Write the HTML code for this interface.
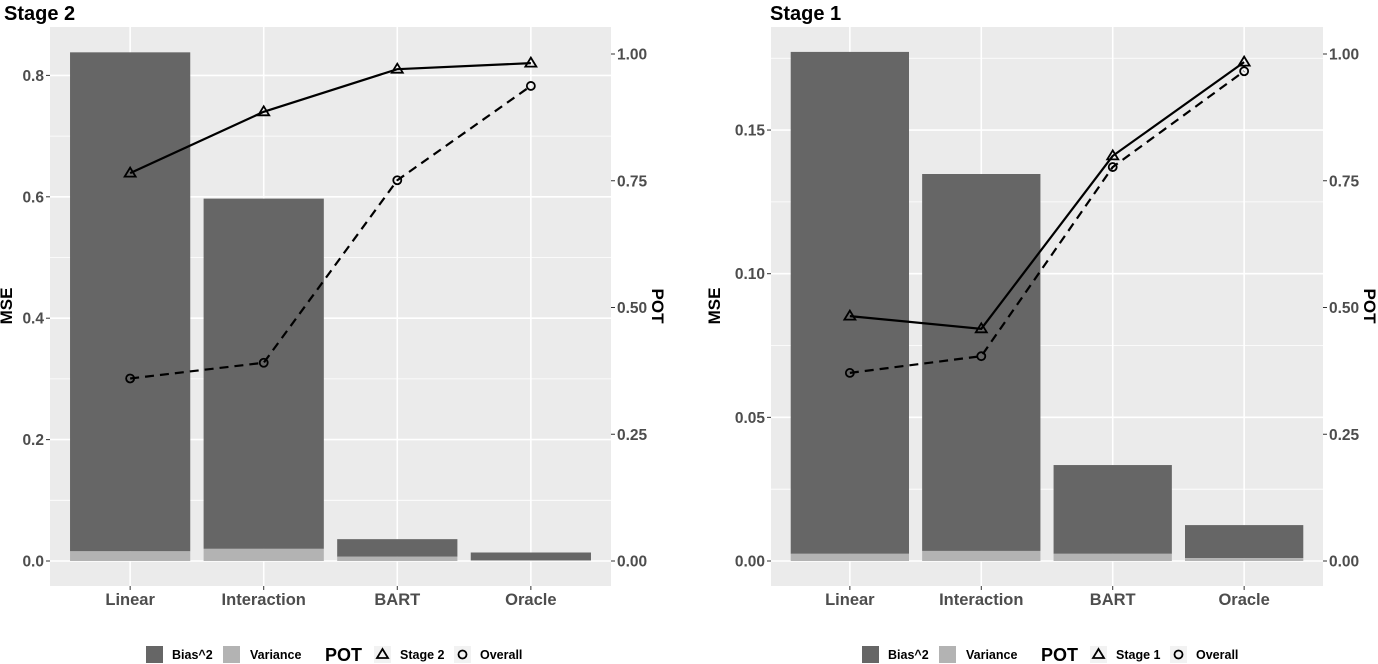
<!DOCTYPE html>
<html><head><meta charset="utf-8"><style>
body{margin:0;background:#fff;}
svg{display:block;font-family:"Liberation Sans",Arial,sans-serif;}
</style></head><body>
<svg id="c" width="1378" height="664" xmlns="http://www.w3.org/2000/svg"></svg>
<script>
const categories = ["Linear","Interaction","BART","Oracle"];
const s2Bias = [0.838,0.597,0.036,0.014];
const s2Var = [0.016,0.020,0.007,0.0015];
const s2PotStage = [0.765,0.886,0.970,0.982];
const s2PotOverall = [0.360,0.391,0.751,0.937];
const s1Bias = [0.1772,0.1347,0.0334,0.0125];
const s1Var = [0.0025,0.0035,0.0025,0.001];
const s1PotStage = [0.483,0.458,0.799,0.984];
const s1PotOverall = [0.371,0.404,0.777,0.966];
const s2LeftTicks = [0,0.2,0.4,0.6,0.8];
const s2LeftLabels = ["0.0","0.2","0.4","0.6","0.8"];
const s1LeftTicks = [0,0.05,0.10,0.15];
const s1LeftLabels = ["0.00","0.05","0.10","0.15"];
const potTicks = [0,0.25,0.5,0.75,1];
const potLabels = ["0.00","0.25","0.50","0.75","1.00"];

const NS="http://www.w3.org/2000/svg";
const svg=document.getElementById('c');
function mk(tag,attrs,parent){const e=document.createElementNS(NS,tag);for(const k in attrs)e.setAttribute(k,attrs[k]);(parent||svg).appendChild(e);return e;}

function panel(o){
  const g=mk('g',{});
  
  
  const L=o.left,R=o.right,T=27,B=586,zero=561;
  const step=(R-L)/4.2;
  const xs=i=>L+step*(0.6+i);
  const yL=v=>zero-v*o.pxPerUnit;
  const yR=v=>zero-v*507;
  const bg=mk('rect',{x:L,y:T,width:R-L,height:B-T,fill:'#ebebeb'},g);
  
  
  for(let i=0;i<o.ticks.length;i++){
    const mv=o.ticks[i]+(o.ticks[1]-o.ticks[0])/2;const my=yL(mv);
    if(my>T){const ln=mk('line',{x1:L,x2:R,y1:my,y2:my,stroke:'#fff','stroke-width':0.8},g);
      }
    const mv2=o.ticks[0]-(o.ticks[1]-o.ticks[0])/2;
    if(i===0){const y2=yL(mv2);if(y2<B){const l2=mk('line',{x1:L,x2:R,y1:y2,y2:y2,stroke:'#fff','stroke-width':0.8},g);
      }}
  }
  o.ticks.forEach((t,i)=>{
    const y=yL(t);
    const ln=mk('line',{x1:L,x2:R,y1:y,y2:y,stroke:'#fff','stroke-width':1.6},g);
    
    mk('line',{x1:L-4,x2:L,y1:y,y2:y,stroke:'#333','stroke-width':1},g);
    const tx=mk('text',{x:L-6,y:y+5.5,'text-anchor':'end','font-size':15.5,'font-weight':'bold',fill:'#4d4d4d'},g);
    tx.textContent=o.labels[i];
    
  });
  categories.forEach((c,i)=>{
    const x=xs(i);
    const ln=mk('line',{x1:x,x2:x,y1:T,y2:B,stroke:'#fff','stroke-width':1.6},g);
    
  });
  categories.forEach((c,i)=>{
    const x=xs(i),w=step*0.9;
    const tot=o.bias[i];
    const b=mk('rect',{x:x-w/2,y:yL(tot),width:w,height:yL(o.vari[i])-yL(tot),fill:'#666666'},g);
    
    const v=mk('rect',{x:x-w/2,y:yL(o.vari[i]),width:w,height:zero-yL(o.vari[i]),fill:'#b3b3b3'},g);
    
    mk('line',{x1:x,x2:x,y1:B,y2:B+4,stroke:'#333','stroke-width':1},g);
    const tx=mk('text',{x:x,y:605,'text-anchor':'middle','font-size':16.5,'font-weight':'bold',fill:'#4d4d4d'},g);
    tx.textContent=c;
  });
  potTicks.forEach((t,i)=>{
    const y=yR(t);
    mk('line',{x1:R,x2:R+4,y1:y,y2:y,stroke:'#333','stroke-width':1},g);
    const tx=mk('text',{x:R+6,y:y+5.5,'font-size':15.5,'font-weight':'bold',fill:'#4d4d4d'},g);
    tx.textContent=potLabels[i];
  });
  const p1=o.stage.map((v,i)=>xs(i)+','+yR(v)).join(' ');
  const l1=mk('polyline',{points:p1,fill:'none',stroke:'#000','stroke-width':2.2},g);
  
  const p2=o.overall.map((v,i)=>xs(i)+','+yR(v)).join(' ');
  const l2=mk('polyline',{points:p2,fill:'none',stroke:'#000','stroke-width':2.2,'stroke-dasharray':'9,6'},g);
  
  o.stage.forEach((v,i)=>{const x=xs(i),y=yR(v);
    const t=mk('polygon',{points:`${x},${y-5.5} ${x-5.5},${y+3.5} ${x+5.5},${y+3.5}`,fill:'none',stroke:'#000','stroke-width':1.8},g);
    });
  o.overall.forEach((v,i)=>{const x=xs(i),y=yR(v);
    const c=mk('circle',{cx:x,cy:y,r:4,fill:'none',stroke:'#000','stroke-width':1.8},g);
    });
  const ti=mk('text',{x:o.titleX,y:20,'font-size':20,'font-weight':'bold',fill:'#000'},g);
  ti.textContent=o.title;
  const ya=mk('text',{x:0,y:0,'font-size':17,'font-weight':'bold','text-anchor':'middle',transform:`translate(${L-o.msePad},306) rotate(-90)`},g);
  ya.textContent='MSE';
  const yb=mk('text',{x:0,y:0,'font-size':17,'font-weight':'bold','text-anchor':'middle',transform:`translate(${R+41},306) rotate(90)`},g);
  yb.textContent='POT';
  const lx=o.legendX,ly=646;
  const lg=mk('g',{},g);
  const k1=mk('rect',{x:lx,y:ly,width:17,height:17,fill:'#666'},lg);
  const t1=mk('text',{x:lx+26,y:ly+13,'font-size':12.5,'font-weight':'bold'},lg);t1.textContent='Bias^2';
  const k2=mk('rect',{x:lx+77,y:ly,width:17,height:17,fill:'#b3b3b3'},lg);
  const t2=mk('text',{x:lx+104,y:ly+13,'font-size':12.5,'font-weight':'bold'},lg);t2.textContent='Variance';
  const t3=mk('text',{x:lx+179,y:ly+15,'font-size':18,'font-weight':'bold'},lg);t3.textContent='POT';
  const k3=mk('rect',{x:lx+228,y:ly,width:17,height:17,fill:'#f2f2f2'},lg);
  mk('polygon',{points:`${lx+236.5},${ly+3} ${lx+231},${ly+12} ${lx+242},${ly+12}`,fill:'none',stroke:'#000','stroke-width':1.8},lg);
  const t4=mk('text',{x:lx+254,y:ly+13,'font-size':12.5,'font-weight':'bold'},lg);t4.textContent=o.title;
  const k4=mk('rect',{x:lx+308,y:ly,width:17,height:17,fill:'#f2f2f2'},lg);
  mk('circle',{cx:lx+316.5,cy:ly+8.5,r:4,fill:'none',stroke:'#000','stroke-width':1.8},lg);
  const t5=mk('text',{x:lx+334,y:ly+13,'font-size':12.5,'font-weight':'bold'},lg);t5.textContent='Overall';
}
panel({name:'stage-2-panel',left:50,right:611,pxPerUnit:607,ticks:s2LeftTicks,labels:s2LeftLabels,bias:s2Bias,vari:s2Var,stage:s2PotStage,overall:s2PotOverall,title:'Stage 2',titleX:4,msePad:38,legendX:146});
panel({name:'stage-1-panel',left:771,right:1323,pxPerUnit:2873,ticks:s1LeftTicks,labels:s1LeftLabels,bias:s1Bias,vari:s1Var,stage:s1PotStage,overall:s1PotOverall,title:'Stage 1',titleX:770,msePad:51,legendX:862});
</script>
</body></html>
